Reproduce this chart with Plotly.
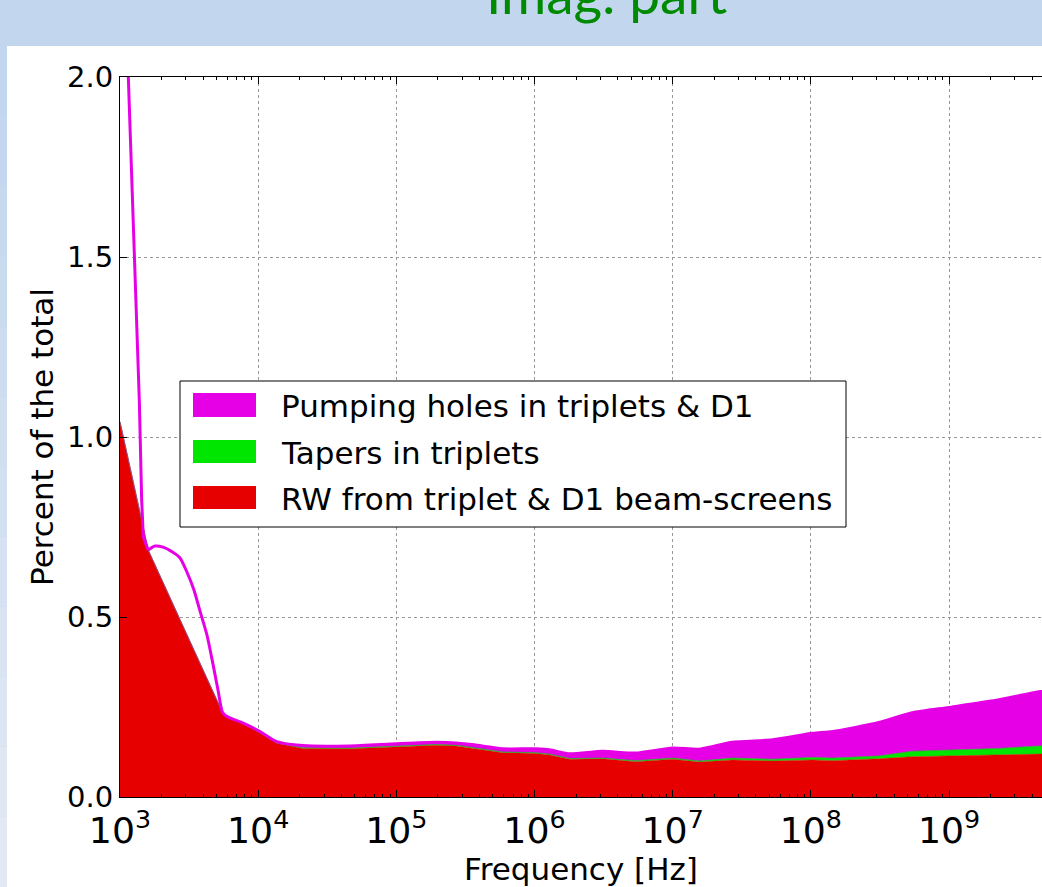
import numpy as np
import plotly.graph_objects as go

# ---------------- data ----------------
freq = [1.0e3, 1.6e3, 5.5e3, 5.9e3, 7.8e3, 1.03e4, 1.36e4, 2.1e4, 4.6e4, 1.0e5,
        1.95e5, 2.7e5, 4.2e5, 5.9e5, 1.03e6, 1.29e6, 1.8e6, 3.1e6, 5.4e6, 1.0e7,
        1.56e7, 2.7e7, 5.3e7, 1.03e8, 1.44e8, 3.1e8, 5.4e8, 1.0e9, 2.3e9, 4.6e9, 1.0e10]
rw_beamscreen = [1.042, 0.686, 0.236, 0.222, 0.203, 0.178, 0.149, 0.135, 0.134, 0.140,
                 0.144, 0.142, 0.131, 0.123, 0.121, 0.117, 0.105, 0.106, 0.098, 0.105,
                 0.097, 0.103, 0.100, 0.103, 0.101, 0.106, 0.112, 0.114, 0.117, 0.120, 0.122]
tapers = [0.0, 0.0, 0.0, 0.001, 0.001, 0.002, 0.002, 0.002, 0.002, 0.002,
          0.002, 0.002, 0.002, 0.002, 0.002, 0.002, 0.002, 0.002, 0.003, 0.003,
          0.003, 0.005, 0.005, 0.007, 0.007, 0.008, 0.015, 0.017, 0.018, 0.022, 0.024]
pumping_holes = [0.0, 0.0, 0.0, 0.001, 0.001, 0.002, 0.003, 0.006, 0.006, 0.006,
                 0.006, 0.006, 0.009, 0.009, 0.011, 0.012, 0.013, 0.019, 0.021, 0.028,
                 0.033, 0.044, 0.054, 0.067, 0.074, 0.093, 0.107, 0.118, 0.135, 0.151, 0.160]

# low-frequency part of the total curve (drawn as a line)
freq_line_steep = [1.0e3, 1.38e3, 1.435e3, 1.475e3, 1.6e3]
total_line_steep = [2.68, 1.10, 0.825, 0.722, 0.686]
freq_line_bump = [1.6e3, 1.79e3, 2.05e3, 2.38e3, 2.72e3, 3.05e3, 3.43e3, 3.79e3,
                  4.26e3, 4.71e3, 5.12e3, 5.5e3]
total_line_bump = [0.686, 0.697, 0.694, 0.681, 0.664, 0.625, 0.575, 0.517,
                   0.450, 0.369, 0.297, 0.236]

legend_names = ["Pumping holes in triplets & D1", "Tapers in triplets",
                "RW from triplet & D1 beam-screens"]
title_text = "Imag. part"
x_title = "Frequency [Hz]"
y_title = "Percent of the total"

# ---------------- styling ----------------
RED = "#e60000"
GREEN = "#00e600"
MAGENTA = "#e600e6"
FONT = "DejaVu Sans"

W, H = 1042, 887
L, R, T, B = 120, 0, 77, 90
PW, PH = W - L - R, H - T - B


def px(xp):
    return (xp - L) / PW


def py(yp):
    return (H - B - yp) / PH


rw = np.array(rw_beamscreen)
green_top = rw + np.array(tapers)
total = green_top + np.array(pumping_holes)

bump_x = list(freq_line_bump) + [f for f in freq if f > freq_line_bump[-1]]
bump_y = list(total_line_bump) + [t for f, t in zip(freq, total) if f > freq_line_bump[-1]]

fig = go.Figure()
fig.add_trace(go.Scatter(x=freq, y=rw, mode="lines", fill="tozeroy", name=legend_names[2],
                         line=dict(color=RED, width=0.5), fillcolor=RED, showlegend=False))
fig.add_trace(go.Scatter(x=freq, y=green_top, mode="lines", fill="tonexty", name=legend_names[1],
                         line=dict(color="#30a030", width=0.8), fillcolor=GREEN, showlegend=False))
fig.add_trace(go.Scatter(x=freq, y=total, mode="lines", fill="tonexty", name=legend_names[0],
                         line=dict(color=MAGENTA, width=0.5), fillcolor=MAGENTA, showlegend=False))
fig.add_trace(go.Scatter(x=freq_line_steep, y=total_line_steep, mode="lines", name="total (low f)",
                         line=dict(color=MAGENTA, width=3), showlegend=False))
fig.add_trace(go.Scatter(x=bump_x, y=bump_y, mode="lines", name="total",
                         line=dict(color=MAGENTA, width=3, shape="spline", smoothing=0.6),
                         showlegend=False))

shapes = []
# white slide panel
shapes.append(dict(type="rect", xref="paper", yref="paper", x0=px(7), x1=px(W + 5),
                   y0=py(H + 5), y1=py(46), fillcolor="white", line=dict(width=0), layer="below"))
# left gradient strip
n = 12
for i in range(n):
    t = i / (n - 1)
    c0 = np.array([194, 214, 238])
    c1 = np.array([226, 233, 244])
    c = (c0 + (c1 - c0) * t).astype(int)
    y0p = 46 + (H - 46) * i / n
    y1p = 46 + (H - 46) * (i + 1) / n
    shapes.append(dict(type="rect", xref="paper", yref="paper", x0=px(0), x1=px(7),
                       y0=py(y1p), y1=py(y0p), fillcolor=f"rgb({c[0]},{c[1]},{c[2]})",
                       line=dict(width=0), layer="below"))

# manual legend
shapes.append(dict(type="rect", xref="paper", yref="paper", x0=px(180), x1=px(846),
                   y0=py(527), y1=py(381), fillcolor="white", line=dict(color="black", width=1),
                   layer="above"))
rows = [(393, 417), (440, 463), (486, 509)]
colors = [MAGENTA, GREEN, RED]
annotations = []
for (a, b), col, name in zip(rows, colors, legend_names):
    shapes.append(dict(type="rect", xref="paper", yref="paper", x0=px(193), x1=px(256),
                       y0=py(b), y1=py(a), fillcolor=col, line=dict(width=0), layer="above"))
    annotations.append(dict(xref="paper", yref="paper", x=px(279), y=py((a + b) / 2 + 1),
                            xanchor="left", yanchor="middle", text=name, showarrow=False,
                            font=dict(family=FONT, size=31, color="black")))

annotations.append(dict(xref="paper", yref="paper", x=px(606), y=py(28), xanchor="center",
                        yanchor="bottom", text=title_text, showarrow=False,
                        font=dict(family="Lato", size=55, color="#008a00")))

fig.update_layout(
    width=W, height=H,
    margin=dict(l=L, r=R, t=T, b=B, pad=0),
    paper_bgcolor="#c2d6ee",
    plot_bgcolor="white",
    shapes=shapes,
    annotations=annotations,
    font=dict(family=FONT, size=29, color="black"),
)
fig.update_xaxes(
    type="log", range=[3, 3 + PW / 138.17], dtick=1, exponentformat="power",
    showline=True, linecolor="black", linewidth=1, mirror="ticks",
    ticks="inside", ticklen=7, tickcolor="black", ticklabelstandoff=3,
    minor=dict(ticks="inside", ticklen=3, tickcolor="black", showgrid=False),
    showgrid=True, gridcolor="#999999", griddash="dot", gridwidth=1,
    zeroline=False, tickfont=dict(family=FONT, size=29),
    title=dict(text=x_title, font=dict(family=FONT, size=31), standoff=4),
)
fig.update_yaxes(
    range=[0, 2.0], dtick=0.5, tickformat=".1f",
    showline=True, linecolor="black", linewidth=1, mirror=False,
    ticks="inside", ticklen=7, tickcolor="black",
    showgrid=True, gridcolor="#999999", griddash="dot", gridwidth=1,
    zeroline=False, tickfont=dict(family=FONT, size=29),
    title=dict(text=y_title, font=dict(family=FONT, size=31), standoff=4),
)

fig.write_html("out.html", config={"displayModeBar": False},
               post_script="document.body.style.margin='0';document.body.style.overflow='hidden';")
